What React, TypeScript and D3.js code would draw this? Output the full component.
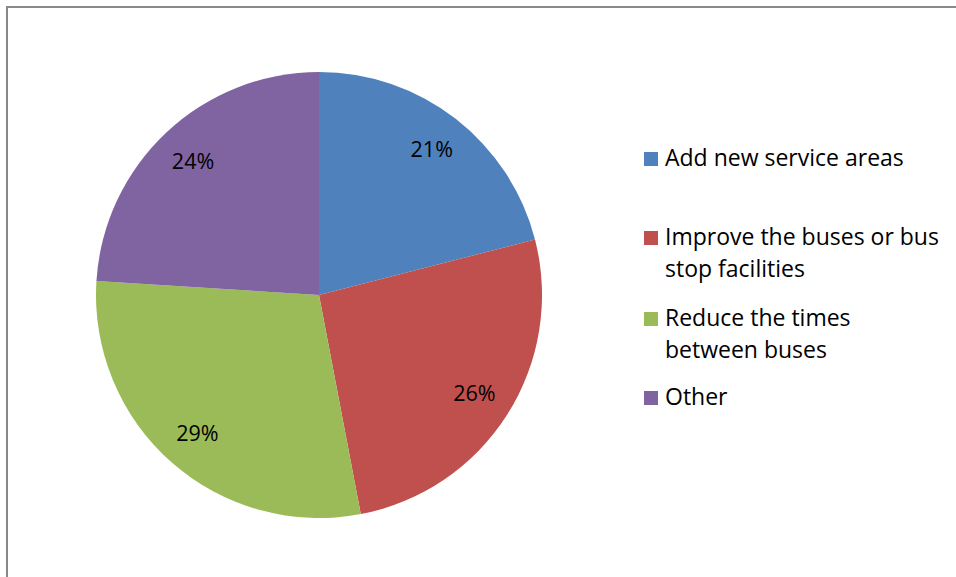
import React from "react";
import * as d3 from "d3";

const categories = ["Add new service areas", "Improve the buses or bus stop facilities", "Reduce the times between buses", "Other"];
const values = [21, 26, 29, 24];
const colors = ["#4F81BD", "#C0504D", "#9BBB59", "#8064A2"];
const legendLines = [["Add new service areas"], ["Improve the buses or bus", "stop facilities"], ["Reduce the times", "between buses"], ["Other"]];
const legendY = [159, 238, 319, 398];

export default function App() {
  const W = 956, H = 577;
  const cx = 319, cy = 295, r = 223;
  const pie = d3.pie<number>().sort(null).value((d) => d);
  const arcs = pie(values);
  const arc = d3.arc<d3.PieArcDatum<number>>().innerRadius(0).outerRadius(r);
  const labelArc = d3.arc<d3.PieArcDatum<number>>().innerRadius(184 * 2 - r).outerRadius(r);
  const font = "'Open Sans', sans-serif";
  return (
    <svg width={W} height={H} style={{ position: "absolute", left: 0, top: 0, display: "block" }}>
      <rect x={0} y={0} width={W} height={H} fill="#fff" />
      <path d={`M7,${H} L7,7 L${W},7`} fill="none" stroke="#898989" strokeWidth={2} />
      <g transform={`translate(${cx},${cy})`}>
        {arcs.map((a, i) => (
          <path key={i} d={arc(a) || ""} fill={colors[i]} />
        ))}
        {arcs.map((a, i) => {
          const [x, y] = labelArc.centroid(a);
          return (
            <text key={"l" + i} x={x} y={y} dy="0.36em" textAnchor="middle" fontFamily={font} fontSize={21.5} fill="#000">
              {values[i]}%
            </text>
          );
        })}
      </g>
      {categories.map((c, i) => (
        <g key={c}>
          <rect x={644} y={legendY[i] - 7} width={14} height={14} fill={colors[i]} />
          {legendLines[i].map((ln, j) => (
            <text key={j} x={665} y={legendY[i] + 7 + j * 32} fontFamily={font} fontSize={23} fill="#000">
              {ln}
            </text>
          ))}
        </g>
      ))}
    </svg>
  );
}
